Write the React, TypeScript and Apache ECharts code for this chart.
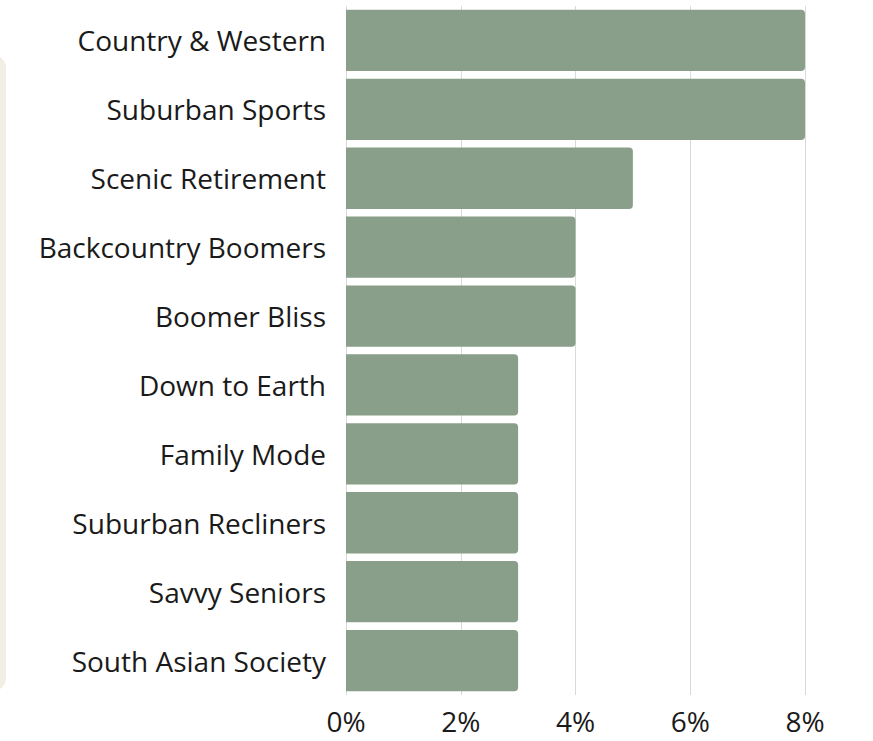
import React, { useEffect, useRef } from "react";
import * as echarts from "echarts";

const categories = [
  "Country & Western",
  "Suburban Sports",
  "Scenic Retirement",
  "Backcountry Boomers",
  "Boomer Bliss",
  "Down to Earth",
  "Family Mode",
  "Suburban Recliners",
  "Savvy Seniors",
  "South Asian Society",
];
const values = [8, 8, 5, 4, 4, 3, 3, 3, 3, 3];

export default function App() {
  const ref = useRef<HTMLDivElement>(null);
  useEffect(() => {
    if (!ref.current) return;
    const chart = echarts.init(ref.current, undefined, { renderer: "svg" });
    chart.setOption({
      animation: false,
      backgroundColor: "#ffffff",
      textStyle: { fontFamily: "Open Sans" },
      graphic: [
        {
          type: "rect",
          left: -20,
          top: 55,
          shape: { width: 26, height: 636, r: 14 },
          style: { fill: "#f2ede5" },
          z: -10,
        },
      ],
      grid: { left: 346, right: 68, top: 6, bottom: 46, containLabel: false },
      xAxis: {
        type: "value",
        min: 0,
        max: 8,
        interval: 2,
        axisLine: { show: false },
        axisTick: { show: false },
        splitLine: { show: true, lineStyle: { color: "#d9d9d9", width: 1 } },
        axisLabel: {
          formatter: "{value}%",
          fontSize: 28,
          color: "#1a1a1a",
          fontFamily: "Open Sans",
          margin: 12,
        },
      },
      yAxis: {
        type: "category",
        data: categories,
        inverse: true,
        axisLine: { show: false },
        axisTick: { show: false },
        axisLabel: {
          fontSize: 28,
          color: "#1a1a1a",
          fontFamily: "Open Sans",
          margin: 20,
        },
      },
      series: [
        {
          type: "bar",
          data: values,
          barCategoryGap: "11%",
          itemStyle: { color: "#8a9f89", borderRadius: [0, 4, 4, 0] },
        },
      ],
    });
    return () => chart.dispose();
  }, []);
  return (
    <div
      ref={ref}
      style={{ position: "fixed", left: 0, top: 0, width: 873, height: 741 }}
    />
  );
}
